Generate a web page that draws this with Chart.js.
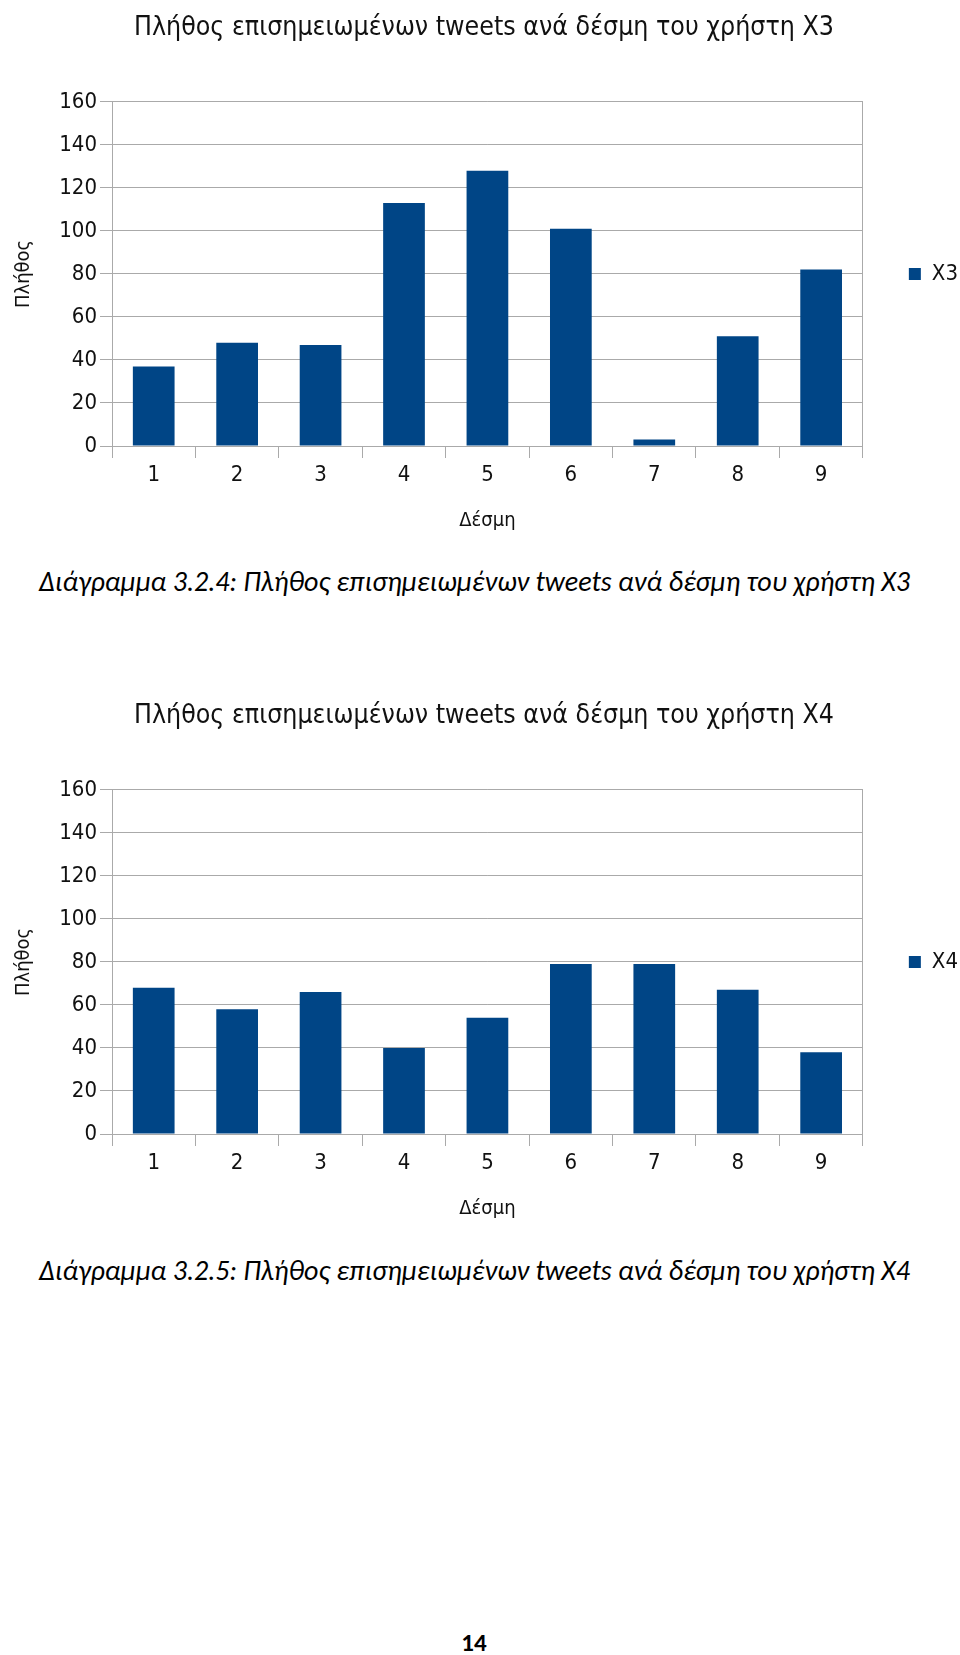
<!DOCTYPE html>
<html>
<head>
<meta charset="utf-8">
<script src="https://cdn.jsdelivr.net/npm/chart.js@4/dist/chart.umd.min.js"></script>
<style>
    html, body { margin: 0; padding: 0; background: #fff; }
    body { width: 960px; height: 1655px; position: relative; overflow: hidden; }
    .chart_box { position: absolute; left: 0; width: 960px; height: 541px; }
    .caption {
        position: absolute; left: 39px; white-space: nowrap;
        font-family: Carlito, "Open Sans", sans-serif; font-style: italic;
        font-size: 28px; color: #000; line-height: 1;
    }
    #page_num {
        position: absolute; left: 0; width: 948px; top: 1630px; text-align: center;
        font-family: Carlito, "Open Sans", sans-serif; font-weight: bold; font-size: 25px; color: #000; line-height: 1;
    }
</style>
</head>
<body>
<div class="chart_box" style="top:0"><canvas id="chart_x3" width="960" height="541"></canvas></div>
<div class="caption" style="top:568px">Διάγραμμα 3.2.4: Πλήθος επισημειωμένων tweets ανά δέσμη του χρήστη X3</div>
<div class="chart_box" style="top:688px"><canvas id="chart_x4" width="960" height="541"></canvas></div>
<div class="caption" style="top:1257px">Διάγραμμα 3.2.5: Πλήθος επισημειωμένων tweets ανά δέσμη του χρήστη X4</div>
<div id="page_num">14</div>

<script>
const bundles = ['1', '2', '3', '4', '5', '6', '7', '8', '9'];
const x3Counts = [37, 48, 47, 113, 128, 101, 3, 51, 82];
const x4Counts = [68, 58, 66, 40, 54, 79, 79, 67, 38];
const yMax = 160;
const yStep = 20;

const narrowFont = "'Liberation Sans Narrow', 'DejaVu Sans Condensed', 'Liberation Sans', sans-serif";
const gridGray = '#aaaaaa';
const barBlue = '#004586';
const textColor = '#111';

function createBarChart(canvasId, title, seriesName, values) {
    const canvas = document.getElementById(canvasId);

    let chartData = {
        labels: bundles,
        datasets: [{
            label: seriesName,
            data: values,
            backgroundColor: barBlue,
            borderWidth: 0,
            categoryPercentage: 1,
            barPercentage: 0.5
        }]
    };

    let chartOptions = {
        responsive: false,
        devicePixelRatio: 1,
        animation: false,
        layout: {padding: {left: 0, right: -8, top: 0, bottom: 0}},
        plugins: {
            title: {
                display: true,
                text: title,
                color: textColor,
                font: {family: narrowFont, size: 26.5, weight: 'normal', lineHeight: 1.2},
                padding: {top: 12, bottom: 58}
            },
            legend: {
                position: 'right',
                fullSize: false,
                labels: {
                    color: textColor,
                    font: {family: narrowFont, size: 22},
                    boxWidth: 12,
                    boxHeight: 12,
                    padding: 6
                }
            },
            tooltip: {enabled: false}
        },
        scales: {
            x: {
                grid: {offset: true, drawOnChartArea: false, color: gridGray, tickLength: 12},
                border: {color: gridGray},
                ticks: {color: textColor, font: {family: narrowFont, size: 22}, padding: 4},
                title: {
                    display: true, text: 'Δέσμη', color: textColor,
                    font: {family: narrowFont, size: 20}, padding: {top: 20, bottom: 8}
                },
                afterFit: function(scale) { scale.height = 95; }
            },
            y: {
                min: 0,
                max: yMax,
                grid: {color: gridGray, tickLength: 12},
                border: {color: gridGray},
                ticks: {stepSize: yStep, color: textColor, font: {family: narrowFont, size: 22}, padding: 3},
                title: {
                    display: true, text: 'Πλήθος', color: textColor,
                    font: {family: narrowFont, size: 20}, padding: {top: 12, bottom: 4}
                },
                afterFit: function(scale) { scale.width = 112; }
            },
            // empty right axis, only draws the right frame line of the plot
            frame: {
                position: 'right',
                grid: {display: false},
                border: {display: true, color: gridGray},
                ticks: {display: false},
                afterFit: function(scale) { scale.width = 40; }
            }
        }
    };

    return new Chart(canvas, {
        type: 'bar',
        data: chartData,
        options: chartOptions
    });
}

createBarChart('chart_x3', 'Πλήθος επισημειωμένων tweets ανά δέσμη του χρήστη X3', 'X3', x3Counts);
createBarChart('chart_x4', 'Πλήθος επισημειωμένων tweets ανά δέσμη του χρήστη X4', 'X4', x4Counts);
</script>
</body>
</html>
